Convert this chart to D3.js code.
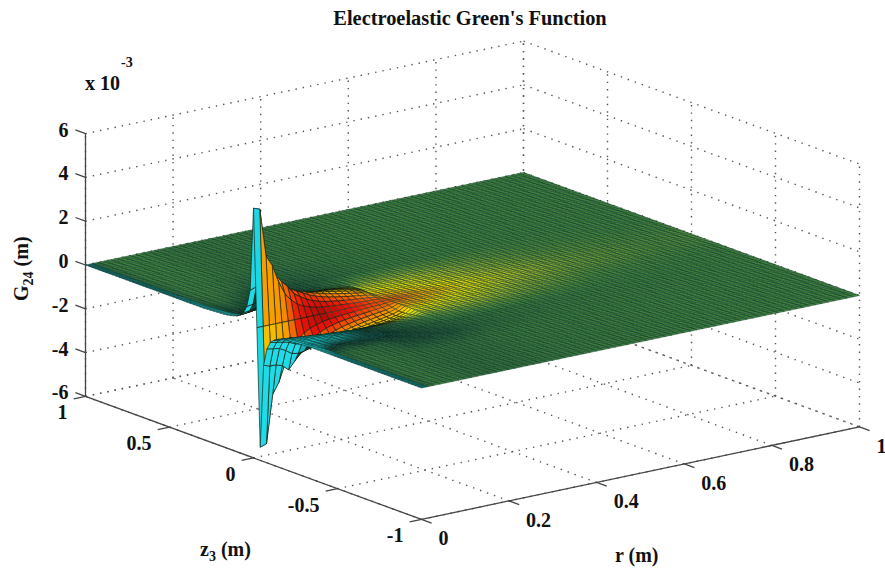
<!DOCTYPE html>
<html>
<head>
<meta charset="utf-8">
<script src="https://cdn.jsdelivr.net/npm/d3@7"></script>
<style>
  html, body { margin: 0; background: #fff; }
  text { font-family: "Liberation Serif", serif; font-weight: bold; fill: #111; }
</style>
</head>
<body>
<svg width="885" height="573"></svg>
<script>
const rTicks = [0, 0.2, 0.4, 0.6, 0.8, 1]
const z3Ticks = [1, 0.5, 0, -0.5, -1]
const gTicks = [6, 4, 2, 0, -2, -4, -6]

// the spike sits on this row of the mesh, not on z3 = 0
const z3Center = -0.02

// heights, in 1e-3 m. one list per mesh column (r = i/70),
// one entry per step of 0.02 in z3 away from the centre row, the other side is the same with sign flipped
const heightByR = [
    [0, 5.4, 1.6, .8, .45, .3, .2, .15, .11, .08, .06, .05, .04, .03, .02, .01, 0],
    [0, 5.3, 1.7, .85, .5, .33, .23, .17, .12, .09, .07, .05, .04, .03, .02, .01, 0],
    [0, 3.1, 1.7, .9, .55, .37, .26, .19, .14, .1, .08, .06, .04, .03, .02, .01, 0],
    [0, 2.6, 1.8, 1.05, .62, .42, .3, .22, .16, .12, .09, .07, .05, .03, .02, .01, 0],
    [0, 1.8, 2.05, 1.25, .75, .49, .35, .25, .18, .13, .1, .07, .05, .04, .02, .01, 0],
    [0, 1.2, 1.7, 1.3, .82, .55, .39, .28, .2, .15, .11, .08, .06, .04, .02, .01, 0],
    [0, .85, 1.4, 1.25, .88, .6, .43, .31, .23, .17, .12, .09, .06, .04, .03, .01, 0],
    [0, .6, 1.02, 1.18, .92, .65, .47, .34, .25, .18, .13, .1, .07, .05, .03, .01, 0],
    [0, .45, .82, 1.02, .9, .68, .5, .37, .27, .2, .15, .1, .07, .05, .03, .01, 0],
    [0, .35, .65, .87, .9, .72, .53, .4, .3, .22, .16, .11, .08, .05, .03, .01, 0],
    [0, .27, .52, .72, .8, .7, .55, .42, .32, .24, .17, .12, .08, .05, .03, .01, 0],
    [0, .22, .43, .61, .7, .68, .56, .44, .33, .25, .18, .13, .09, .06, .03, .01, 0],
    [0, .19, .36, .52, .62, .63, .56, .45, .34, .26, .19, .14, .09, .06, .03, .01, 0],
    [0, .16, .31, .45, .54, .57, .54, .45, .35, .27, .2, .14, .1, .06, .03, .01, 0],
    [0, .14, .27, .39, .48, .52, .51, .44, .35, .27, .2, .15, .1, .06, .03, .01, 0],
    [0, .12, .23, .34, .42, .47, .47, .42, .34, .27, .2, .15, .1, .06, .03, .01, 0],
    [0, .1, .2, .29, .37, .42, .42, .39, .33, .26, .2, .14, .1, .06, .03, .01, 0],
    [0, .08, .17, .25, .32, .36, .37, .35, .3, .24, .18, .13, .09, .06, .03, .01, 0],
    [0, .07, .14, .21, .27, .31, .32, .3, .26, .21, .16, .12, .08, .05, .03, .01, 0],
    [0, .06, .11, .17, .22, .25, .26, .24, .21, .17, .13, .1, .07, .04, .02, .01, 0],
    [0, .04, .07, .11, .14, .16, .17, .16, .14, .11, .09, .06, .04, .03, .02, .01, 0],
]

// surface lighting as it looks in the picture: -1 cyan, about -.45 nearly black, 0 green, 1 red, 1.15 dark red
const shadeR = [.007, .021, .036, .05, .07, .09, .12, .15, .2, .26, .33, .42, .55, .7, .9]
const shadeOffset = [-.6, -.45, -.35, -.25, -.18, -.12, -.08, -.03, -.02, 0, .02, .04, .08, .12, .18, .25, .35, .45, .6]
const shadeRows = [
    [-.62, -.12, -.03, -.02, -.03, -.05, -.08, -.1, -.1, -.08, -.05, -.03, -.02, 0, 0],
    [-.66, -.15, -.1, -.08, -.1, -.12, -.15, -.3, -.35, -.3, -.15, -.08, -.04, -.02, 0],
    [-.8, -.6, -.5, -.45, -.45, -.5, -.5, -.5, -.35, -.2, -.12, -.08, -.05, -.03, 0],
    [-.95, -1, -1, -1, -1, -.85, -.6, -.45, -.15, 0, .12, .14, .06, 0, 0],
    [-1, -1, -1, -1, -1, -1, -.95, -.6, .25, .38, .42, .35, .18, .03, 0],
    [-1, -1, -1, -1, -1, -1, -.9, .5, .6, .66, .62, .48, .24, .08, .02],
    [-1, -1, -1, -1, -1, -.95, .65, .8, .82, .8, .74, .56, .3, .12, .04],
    [-1, -1, -1, -1, -1, .85, 1, 1.02, .96, .9, .84, .62, .36, .15, .05],
    [-1, .6, .62, .68, .78, .95, 1.05, 1.1, 1, .92, .86, .66, .38, .16, .05],
    [-1, .75, .75, .78, .82, .98, 1.08, 1.15, 1.02, .94, .87, .68, .4, .16, .05],
    [-1, .8, .8, .8, .85, .95, 1.05, 1.1, 1, .92, .86, .66, .38, .16, .05],
    [-1, -.3, .3, .78, .82, .9, .98, 1, .94, .88, .8, .6, .36, .15, .05],
    [-1, -.6, -.5, .2, .5, .78, .85, .84, .8, .78, .7, .54, .32, .13, .04],
    [-.9, -.5, -.5, -.5, -.5, -.45, -.3, .1, .5, .6, .58, .46, .25, .1, .03],
    [-.8, -.45, -.4, -.4, -.45, -.5, -.5, -.45, -.1, .35, .42, .38, .2, .06, .02],
    [-.72, -.3, -.25, -.2, -.3, -.42, -.5, -.5, -.45, -.1, .15, .18, .1, .03, 0],
    [-.68, -.2, -.1, -.05, -.08, -.15, -.3, -.35, -.3, -.2, -.1, -.03, 0, 0, 0],
    [-.64, -.15, -.05, 0, 0, -.03, -.08, -.15, -.18, -.14, -.08, -.03, 0, 0, 0],
    [-.6, -.12, -.03, 0, 0, 0, 0, -.04, -.06, -.06, -.04, -.02, 0, 0, 0],
]

const colorScale = d3.scaleLinear()
    .domain([-1, -.7, -.45, -.2, 0, .3, .55, .8, 1, 1.15])
    .range(["#1fdbe8", "#0f8f95", "#07302a", "#276339", "#438a3f", "#a8c02c", "#f4e800", "#f59800", "#e81208", "#a80e08"])
    .clamp(true)

// orthographic view, screen offset of each data axis
const rX = d3.scaleLinear([0, 1], [0, 438])
const rY = d3.scaleLinear([0, 1], [0, -92.5])
const z3X = d3.scaleLinear([-1, 1], [168, -168])
const z3Y = d3.scaleLinear([-1, 1], [61.5, -61.5])
const gY = d3.scaleLinear([-6, 6], [131.4, -131.4])

function proj(r, z3, g) {
    return [253.5 + rX(r) + z3X(z3), 326.5 + rY(r) + z3Y(z3) + gY(g)]
}

const svg = d3.select('svg')

function pickIndex(list, v) {
    return Math.max(0, Math.min(list.length - 2, d3.bisectRight(list, v) - 1))
}

function shadeAt(r, offset) {
    const a = pickIndex(shadeR, r)
    const b = pickIndex(shadeOffset, offset)
    const tr = Math.max(0, Math.min(1, (r - shadeR[a]) / (shadeR[a + 1] - shadeR[a])))
    const to = Math.max(0, Math.min(1, (offset - shadeOffset[b]) / (shadeOffset[b + 1] - shadeOffset[b])))
    const low = shadeRows[b][a] * (1 - tr) + shadeRows[b][a + 1] * tr
    const high = shadeRows[b + 1][a] * (1 - tr) + shadeRows[b + 1][a + 1] * tr
    return low * (1 - to) + high * to
}

// mesh
const rMesh = d3.range(71).map(i => i / 70)
const z3Mesh = d3.range(101).map(k => -1 + k * 0.02)

function heightAt(i, k) {
    const steps = k - Math.round((z3Center + 1) / 0.02)
    const column = heightByR[i]
    if (!column || Math.abs(steps) >= column.length) return 0
    return Math.sign(steps) * column[Math.abs(steps)]
}

let cells = []
for (let k = z3Mesh.length - 2; k >= 0; k--) {
    for (let i = rMesh.length - 2; i >= 0; i--) {
        const corners = [[i, k], [i + 1, k], [i + 1, k + 1], [i, k + 1]]
        const heights = corners.map(c => heightAt(c[0], c[1]))
        cells.push({
            points: corners.map((c, n) => proj(rMesh[c[0]], z3Mesh[c[1]], heights[n])),
            shade: shadeAt((rMesh[i] + rMesh[i + 1]) / 2, (z3Mesh[k] + z3Mesh[k + 1]) / 2 - z3Center),
            steep: d3.max(heights, Math.abs) > 0.25
        })
    }
}

// dotted walls and floor
const gridLines = []
rTicks.forEach(r => {
    gridLines.push([[r, -1, -6], [r, 1, -6]])
    gridLines.push([[r, 1, -6], [r, 1, 6]])
})
z3Ticks.forEach(z => {
    gridLines.push([[0, z, -6], [1, z, -6]])
    gridLines.push([[1, z, -6], [1, z, 6]])
})
gTicks.forEach(g => {
    gridLines.push([[0, 1, g], [1, 1, g]])
    gridLines.push([[1, 1, g], [1, -1, g]])
})

svg.append('g')
    .selectAll('path')
    .data(gridLines)
    .enter()
    .append('path')
    .attr('d', d => 'M' + proj(...d[0]) + 'L' + proj(...d[1]))
    .attr('fill', 'none')
    .attr('stroke', '#555')
    .attr('stroke-width', 1.4)
    .attr('stroke-dasharray', '1.4,6')

svg.append('g')
    .selectAll('polygon')
    .data(cells)
    .enter()
    .append('polygon')
    .attr('points', d => d.points.join(' '))
    .attr('fill', d => colorScale(d.shade))
    .attr('stroke', d => d.steep ? '#14180c' : '#0a2f22')
    .attr('stroke-width', d => d.steep ? 0.65 : 0.45)
    .attr('stroke-linejoin', 'round')

// solid axes with ticks
const axisLines = [
    [[0, 1, -6], [0, 1, 6]],
    [[0, 1, -6], [0, -1, -6]],
    [[0, -1, -6], [1, -1, -6]],
]
gTicks.forEach(g => axisLines.push([[0, 1, g], [0, 1.06, g]]))
z3Ticks.forEach(z => axisLines.push([[0, z, -6], [-0.027, z, -6]]))
rTicks.forEach(r => axisLines.push([[r, -1, -6], [r, -1.06, -6]]))

svg.append('g')
    .selectAll('path')
    .data(axisLines)
    .enter()
    .append('path')
    .attr('d', d => 'M' + proj(...d[0]) + 'L' + proj(...d[1]))
    .attr('fill', 'none')
    .attr('stroke', '#444')
    .attr('stroke-width', 1.3)

// tick labels sit at a fixed offset from the tick ends
function tickLabels(values, at, dx, dy, anchor) {
    svg.append('g')
        .selectAll('text')
        .data(values)
        .enter()
        .append('text')
        .attr('x', d => at(d)[0] + dx)
        .attr('y', d => at(d)[1] + dy)
        .attr('text-anchor', anchor)
        .attr('font-size', 20)
        .text(d => d)
}
tickLabels(gTicks, d => proj(0, 1, d), -17, 3, 'end')
tickLabels(z3Ticks, d => proj(0, d, -6), -18, 23, 'end')
tickLabels(rTicks, d => proj(d, -1, -6), 17, 26, 'start')

svg.append('text')
    .attr('x', 470).attr('y', 25)
    .attr('text-anchor', 'middle')
    .attr('font-size', 20.4)
    .text("Electroelastic Green's Function")

svg.append('text').attr('x', 85).attr('y', 90).attr('font-size', 20).text('x 10')
svg.append('text').attr('x', 121).attr('y', 67).attr('font-size', 14).text('-3')

const gLabel = svg.append('text')
    .attr('transform', 'translate(28,301) rotate(-90)')
    .attr('font-size', 20)
gLabel.append('tspan').text('G')
gLabel.append('tspan').attr('dy', 5).attr('font-size', 14).text('24')
gLabel.append('tspan').attr('dy', -5).text(' (m)')

const zLabel = svg.append('text').attr('x', 200).attr('y', 556).attr('font-size', 20)
zLabel.append('tspan').text('z')
zLabel.append('tspan').attr('dy', 5).attr('font-size', 14).text('3')
zLabel.append('tspan').attr('dy', -5).text(' (m)')

svg.append('text').attr('x', 615).attr('y', 562).attr('font-size', 20).text('r (m)')
</script>
</body>
</html>
